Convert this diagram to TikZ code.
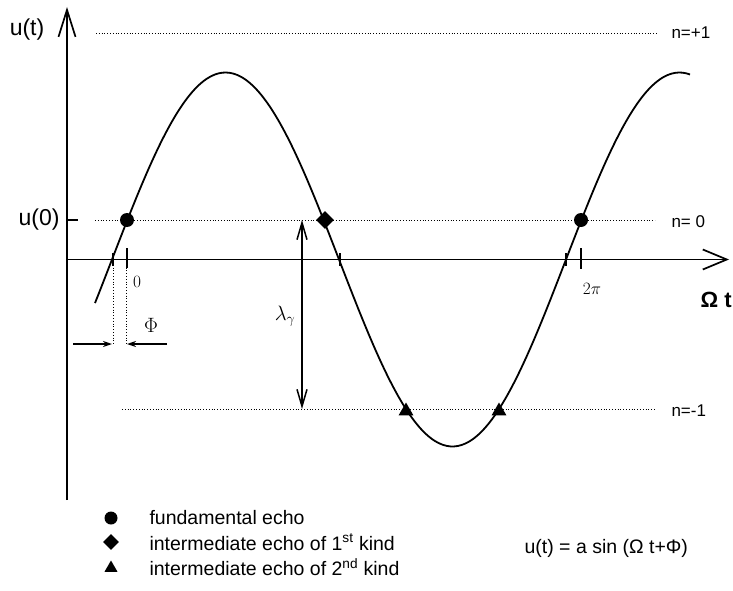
\documentclass[tikz,border=0pt]{standalone}
\usepackage{fontspec}
\setmainfont{Liberation Sans}
\usetikzlibrary{arrows.meta,shapes.geometric}
\begin{document}
\begin{tikzpicture}[x=1pt,y=-1pt,
  axisline/.style={line width=1.7pt},
  dotline/.style={dotted, line width=0.8pt},
  tickline/.style={line width=1.5pt},
  echoA/.style={circle, fill=black, inner sep=0pt, minimum size=14pt},
  echoB/.style={diamond, fill=black, inner sep=0pt, minimum size=18pt},
  echoC/.style={regular polygon, regular polygon sides=3, fill=black, inner sep=0pt, minimum size=17pt},
  nlabel/.style={anchor=west, font=\fontsize{17}{19}\selectfont},
  biglabel/.style={font=\fontsize{23}{26}\selectfont},
  leglabel/.style={anchor=west, font=\fontsize{19.5}{22}\selectfont},
  mathlabel/.style={font=\fontsize{17}{19}\selectfont}
]
\useasboundingbox (0,0) rectangle (733,591);

% axes
\coordinate (ybot) at (67,500);
\coordinate (ytop) at (67,7);
\coordinate (xstart) at (67,259.5);
\coordinate (xend) at (729,259.5);
\draw[axisline, -{Straight Barb[length=27pt,width=17pt]}] (ybot) -- (ytop);
\draw[axisline, -{Straight Barb[length=24pt,width=20pt]}] (xstart) -- (xend);

% dotted levels
\coordinate (p1a) at (96,33);  \coordinate (p1b) at (657,33);
\coordinate (z0a) at (95,220); \coordinate (z0b) at (655,220);
\coordinate (m1a) at (122,409); \coordinate (m1b) at (655,409);
\draw[dotline] (p1a) -- (p1b);
\draw[dotline] (z0a) -- (z0b);
\draw[dotline] (m1a) -- (m1b);
\node[nlabel] (np1) at (668,33) {n=+1};
\node[nlabel] (nz0) at (668,222) {n= 0};
\node[nlabel] (nm1) at (668,411) {n=-1};

% axis labels
\node[biglabel] (ut) at (27,30) {u(t)};
\coordinate (u0a) at (67,220); \coordinate (u0b) at (78,220);
\draw[tickline] (u0a) -- (u0b);
\node[biglabel, anchor=east] (u0) at (63,220) {u(0)};
\node[font=\fontsize{22}{24}\selectfont\bfseries, anchor=east, inner sep=1pt] (om) at (733,300) {Ω t};

% ticks
\coordinate (t0a) at (127,248); \coordinate (t0b) at (127,268);
\coordinate (t2a) at (581,248); \coordinate (t2b) at (581,269);
\draw[tickline] (t0a) -- (t0b);
\draw[tickline] (t2a) -- (t2b);
\coordinate (c1a) at (113,253); \coordinate (c1b) at (113,266);
\coordinate (c2a) at (340,253); \coordinate (c2b) at (340,266);
\coordinate (c3a) at (566,253); \coordinate (c3b) at (566,266);
\draw[tickline] (c1a) -- (c1b);
\draw[tickline] (c2a) -- (c2b);
\draw[tickline] (c3a) -- (c3b);
\node[mathlabel] (l0) at (137,282) {$0$};
\node[mathlabel] (l2pi) at (592,289) {$2\pi$};

% sine curve
\draw[line width=1.8pt] plot[domain=95:690, samples=160, smooth] (\x,{259.5-187*sin((\x-112)/454*360)});

% echoes
\node[echoA] (f1) at (127,220) {};
\node[echoA] (f2) at (581,220) {};
\node[echoB] (i1) at (325,220) {};
\node[echoC] (s1) at (406,411) {};
\node[echoC] (s2) at (499,411) {};

% lambda arrow
\coordinate (lt) at (302,220); \coordinate (lb) at (302,409);
\draw[line width=1.5pt, {Straight Barb[length=17pt,width=10pt]}-{Straight Barb[length=17pt,width=10pt]}] (lt) -- (lb);
\node[font=\fontsize{22}{24}\selectfont] (lam) at (285,316) {$\lambda_\gamma$};

% phase
\coordinate (d1a) at (113,262); \coordinate (d1b) at (113,344);
\coordinate (d2a) at (126,262); \coordinate (d2b) at (126,344);
\draw[dotline] (d1a) -- (d1b);
\draw[dotline] (d2a) -- (d2b);
\coordinate (pa1) at (73,344); \coordinate (pa2) at (112,344);
\coordinate (pb1) at (167,344); \coordinate (pb2) at (127,344);
\draw[line width=1.4pt, -{Stealth[length=9pt,width=6pt]}] (pa1) -- (pa2);
\draw[line width=1.4pt, -{Stealth[length=9pt,width=6pt]}] (pb1) -- (pb2);
\node[font=\fontsize{22}{24}\selectfont] (phi) at (151,325) {$\Phi$};

% legend
\node[echoA, minimum size=13pt] (g1) at (111,518) {};
\node[echoB, minimum size=16pt] (g2) at (111,542) {};
\node[echoC, minimum size=15pt] (g3) at (111,568) {};
\node[leglabel] (t1) at (146,518) {fundamental echo};
\node[leglabel] (t2) at (146,542) {intermediate echo of 1\textsuperscript{st} kind};
\node[leglabel] (t3) at (146,567) {intermediate echo of 2\textsuperscript{nd} kind};
\node[leglabel] (form) at (521,548) {u(t) = a sin (Ω t+Φ)};
\end{tikzpicture}
\end{document}
